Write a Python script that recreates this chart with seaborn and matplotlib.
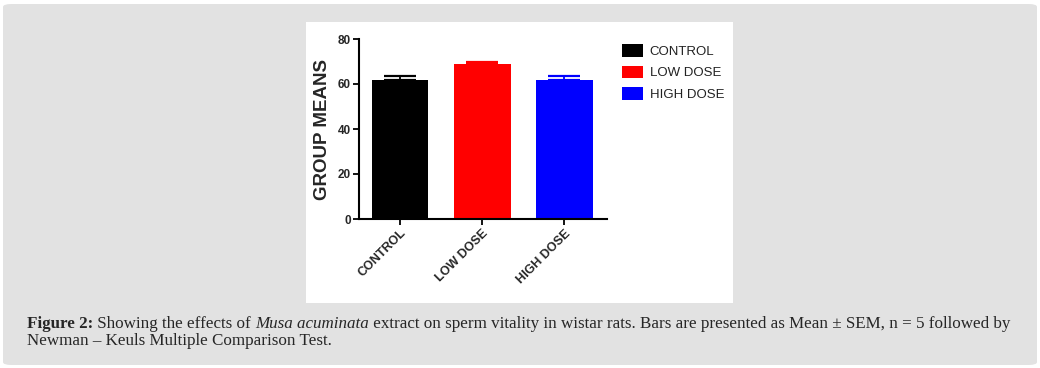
import seaborn as sns
import matplotlib.pyplot as plt
import pandas as pd
from matplotlib.patches import FancyBboxPatch, Rectangle

groups = ['CONTROL', 'LOW DOSE', 'HIGH DOSE']
means = [62.0, 68.8, 62.0]
sem = [1.6, 1.2, 1.6]
colors = ['#000000', '#ff0000', '#0000ff']

df = pd.DataFrame({'group': groups, 'mean': means, 'sem': sem})

sns.set_theme(style='ticks')
plt.rcParams['font.family'] = ['Liberation Sans', 'DejaVu Sans']

W, H = 1040, 368
fig = plt.figure(figsize=(10.4, 3.68), dpi=100)
fig.patch.set_facecolor('white')

# grey panel + white chart box
fig.patches.append(FancyBboxPatch((3 / W, 3 / H), 1034 / W, 361 / H,
                                  boxstyle='round,pad=0,rounding_size=0.008',
                                  transform=fig.transFigure, facecolor='#e2e2e2',
                                  edgecolor='none', zorder=0))
fig.patches.append(Rectangle((306 / W, 1 - 303 / H), 427 / W, 281 / H,
                             transform=fig.transFigure, facecolor='white',
                             edgecolor='none', zorder=1))

ax = fig.add_axes([359 / W, 1 - 219 / H, 248 / W, 180 / H])
ax.set_facecolor('none')
ax.set_zorder(2)

sns.barplot(data=df, x='group', y='mean', hue='group', palette=colors,
            saturation=1, width=0.69, legend=False, ax=ax, edgecolor='none',
            errorbar=None)
for i, c in enumerate(colors):
    ax.errorbar([i], [means[i]], yerr=[[0], [sem[i]]], fmt='none',
                ecolor=c, elinewidth=1.3, capsize=11.5, capthick=1.6)

ax.set_ylim(0, 80)
ax.set_xlim(-0.5, 2.52)
ax.set_yticks([0, 20, 40, 60, 80])
ax.set_yticklabels(['0', '20', '40', '60', '80'], fontsize=8.5, fontweight='bold')
ax.set_xticks(range(3))
ax.set_xticklabels(groups, rotation=45, ha='right', rotation_mode='anchor',
                   fontsize=9, fontweight='bold')
ax.set_xlabel('')
ax.set_ylabel('GROUP MEANS', fontsize=13.5, fontweight='bold', labelpad=5)
for s in ['top', 'right']:
    ax.spines[s].set_visible(False)
for s in ['left', 'bottom']:
    ax.spines[s].set_linewidth(1.5)
    ax.spines[s].set_color('black')
ax.tick_params(axis='both', length=4, width=1.3, color='black', pad=2)

# legend
handles = [Rectangle((0, 0), 1, 1, facecolor=c, edgecolor='none') for c in colors]
fig.legend(handles, groups, loc='upper left', bbox_to_anchor=(610 / W, 1 - 32 / H),
           frameon=False, fontsize=9.5, handlelength=1.6, handleheight=1.1,
           labelspacing=0.6, handletextpad=0.5, labelcolor='#222222')

# caption, built from pieces so the bold / italic parts sit inline
serif = ['Liberation Serif', 'DejaVu Serif']
cap_size = 12.25
pieces = [('Figure 2:', 'bold', 'normal'),
          (' Showing the effects of ', 'normal', 'normal'),
          ('Musa acuminata', 'normal', 'italic'),
          (' extract on sperm vitality in wistar rats. Bars are presented as '
           'Mean ± SEM, n = 5 followed by', 'normal', 'normal')]
renderer = fig.canvas.get_renderer()
x = 27
for txt, wt, st in pieces:
    t = fig.text(x / W, 1 - 324 / H, txt, fontsize=cap_size, family=serif,
                 fontweight=wt, style=st, va='center', zorder=3)
    x = t.get_window_extent(renderer).x1
fig.text(27 / W, 1 - 341 / H, 'Newman – Keuls Multiple Comparison Test.',
         fontsize=cap_size, family=serif, va='center', zorder=3)

fig.savefig('out.png', dpi=100)
